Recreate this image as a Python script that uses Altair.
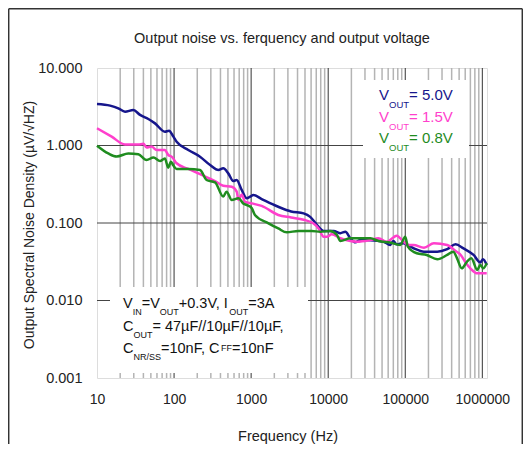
import altair as alt
import pandas as pd

FONT = "Liberation Sans"

# ---------------- data ----------------
blue_f = [10, 14.8, 18.9, 23.1, 29.6, 36.2, 46.4, 56.6, 76, 86, 98, 108, 153, 217, 294, 376, 435, 505, 586, 650,
          754, 880, 973, 1070, 1370, 2250, 3300, 4800, 5840, 7170, 8750, 11800, 14400, 16700, 19400, 22500, 26200,
          35300, 52500, 63500, 70000, 77500, 95000, 128000, 175000, 260000, 350000, 450000, 570000, 770000,
          940000, 1020000, 1140000]
blue_v = [3.43, 3.27, 3.02, 2.73, 2.87, 2.48, 2.2, 1.93, 1.51, 1.55, 1.30, 1.12, 0.875, 0.718, 0.56, 0.483, 0.507,
          0.437, 0.348, 0.359, 0.267, 0.208, 0.219, 0.23, 0.204, 0.162, 0.141, 0.133, 0.12, 0.094, 0.079, 0.079,
          0.074, 0.077, 0.0635, 0.0564, 0.0604, 0.060, 0.0574, 0.052, 0.0586, 0.053, 0.0547, 0.0472, 0.0427,
          0.0427, 0.046, 0.053, 0.047, 0.0387, 0.031, 0.034, 0.0287]

pink_f = [10, 15.5, 23.1, 34.4, 40, 44, 51, 59.5, 76, 84, 93, 108, 153, 228, 340, 435, 560, 650, 686, 754,
          834, 1020, 1370, 2250, 3300, 4800, 6400, 7500, 8750, 9700, 11100, 14400, 23600, 35300, 44800, 57700,
          77500, 95000, 110000, 128000, 175000, 235000, 350000, 450000, 525000, 615000, 700000, 860000, 1140000]
pink_v = [1.67, 1.30, 1.03, 1.03, 1.05, 0.94, 0.97, 0.875, 0.875, 0.754, 0.718, 0.59, 0.498, 0.417, 0.348, 0.303,
          0.294, 0.254, 0.198, 0.234, 0.188, 0.179, 0.166, 0.127, 0.118, 0.11, 0.099, 0.085, 0.0665, 0.0665,
          0.0714, 0.0635, 0.0574, 0.0604, 0.0635, 0.0574, 0.0687, 0.0574, 0.052, 0.052, 0.048, 0.0547, 0.052,
          0.0436, 0.0387, 0.0302, 0.026, 0.0224, 0.0224]

green_f = [10, 14, 18, 25.5, 34.4, 44, 54, 65.8, 76, 84, 91, 98, 108, 153, 217, 264, 340, 435, 480, 560,
           686, 790, 920, 1020, 1120, 1680, 2250, 2900, 4100, 6100, 7900, 10600, 13000, 14400, 19400, 23600,
           35300, 44800, 63500, 86000, 100000, 108000, 141000, 190000, 260000, 350000, 420000, 470000, 540000,
           630000, 720000, 860000, 940000, 1030000, 1140000]
green_v = [0.995, 0.79, 0.72, 0.79, 0.77, 0.65, 0.70, 0.63, 0.68, 0.518, 0.617, 0.55, 0.498, 0.498, 0.483, 0.359,
           0.335, 0.219, 0.254, 0.198, 0.208, 0.179, 0.167, 0.155, 0.127, 0.099, 0.085, 0.0758, 0.079, 0.079,
           0.077, 0.079, 0.07, 0.0586, 0.0635, 0.0635, 0.0635, 0.0586, 0.056, 0.052, 0.0665, 0.0496, 0.0407,
           0.0387, 0.034, 0.0387, 0.0427, 0.035, 0.026, 0.0316, 0.035, 0.0248, 0.0287, 0.026, 0.0302]

series_names = ["VOUT=5.0V", "VOUT=1.5V", "VOUT=0.8V"]
series_colors = ["#16168c", "#ff3fcc", "#1f8c1f"]

x_ticks = [10, 100, 1000, 10000, 100000, 1000000]
y_ticks = [0.001, 0.01, 0.1, 1, 10]
x_minor = [k * d for d in [10, 100, 1000, 10000, 100000] for k in range(2, 10)]
x_major = [100, 1000, 10000, 100000, 1000000]
y_major = [0.01, 0.1, 1]

title_text = "Output noise vs. ferquency and output voltage"
x_title = "Frequency (Hz)"
y_title = "Output Spectral Noise Density (µV/√HZ)"

W, H = 390, 310
xs = alt.Scale(type="log", domain=[10, 1.15e6], nice=False)
ys = alt.Scale(type="log", domain=[0.001, 10], nice=False)

rows = []
for name, fs, vs in zip(series_names, [blue_f, pink_f, green_f], [blue_v, pink_v, green_v]):
    for f, v in zip(fs, vs):
        rows.append({"series": name, "f": f, "v": v})
curves_df = pd.DataFrame(rows)

# ---------------- text layout helpers (Arial metrics) ----------------
AW = {'V': 667, 'O': 778, 'U': 722, 'T': 611, 'I': 278, 'N': 722, 'C': 722, 'R': 722, 'S': 667, 'F': 611,
      'A': 667, '=': 584, ' ': 278, '.': 278, ',': 278, '+': 584, '/': 278, 'µ': 576, 'n': 556}
for d in "0123456789":
    AW[d] = 556


def tw(s, size):
    return sum(AW.get(c, 556) for c in s) * size / 1000.0


def layout(segs, x0, y0, main, sub, sub_dy, color):
    out = []
    x = x0
    for txt, kind in segs:
        if kind == "n":
            size, dy = main, 0
        elif kind == "s":
            size, dy = sub, sub_dy
        else:  # raised small subscript
            size, dy = sub, -2
        out.append({"px": x, "py": y0 + dy, "t": txt, "s": size, "c": color})
        x += tw(txt, size)
    return out


text_rows = []
# legend box text (chart coords: page - (97, 68))
leg_vals = ["5.0V", "1.5V", "0.8V"]
for i, (val, col) in enumerate(zip(leg_vals, series_colors)):
    text_rows += layout([("V", "n"), ("OUT", "s"), ("= " + val, "n")], 282, 32 + i * 21.5, 15, 9.5, 8, col)

# annotation text
ann_color = "#111111"
text_rows += layout([("V", "n"), ("IN", "s"), ("=V", "n"), ("OUT", "s"), ("+0.3V, I", "n"), ("OUT", "s"),
                     ("=3A", "n")], 26, 240, 14.5, 9, 7, ann_color)
text_rows += layout([("C", "n"), ("OUT", "s"), ("= 47µF//10µF//10µF,", "n")], 26, 263, 14.5, 9, 7, ann_color)
text_rows += layout([("C", "n"), ("NR/SS", "s"), ("=10nF, C", "n"), ("FF", "r"), ("=10nF", "n")],
                    26, 285, 14.5, 9, 7, ann_color)
text_df = pd.DataFrame(text_rows)

one = alt.Data(values=[{}])

# ---------------- layers ----------------
minor_grid = alt.Chart(pd.DataFrame({"f": x_minor})).mark_rule(color="#b4b4b4", strokeWidth=1.5).encode(
    x=alt.X("f:Q", scale=xs, axis=None))
major_grid = alt.Chart(pd.DataFrame({"f": x_major})).mark_rule(color="#333333", strokeWidth=1).encode(
    x=alt.X("f:Q", scale=xs, axis=None))
hgrid = alt.Chart(pd.DataFrame({"v": y_major})).mark_rule(color="#444444", strokeWidth=1).encode(
    y=alt.Y("v:Q", scale=ys, axis=None))

legend_box = alt.Chart(one).mark_rect(fill="white").encode(
    x=alt.value(266), x2=alt.value(372), y=alt.value(12), y2=alt.value(90))
ann_box = alt.Chart(one).mark_rect(fill="white").encode(
    x=alt.value(13), x2=alt.value(211), y=alt.value(219), y2=alt.value(305))

curves = alt.Chart(curves_df).mark_line(strokeWidth=2.5, interpolate="monotone").encode(
    x=alt.X("f:Q", scale=xs,
            axis=alt.Axis(values=x_ticks, format="d", title=None, grid=False, domain=False, ticks=False,
                          labelFontSize=14, labelColor="#222", labelFont=FONT, labelPadding=14,
                          labelFlush=False, labelOverlap=False)),
    y=alt.Y("v:Q", scale=ys,
            axis=alt.Axis(values=y_ticks, format=".3f", title=None, grid=False, domain=False, ticks=False,
                          labelFontSize=14.5, labelColor="#222", labelFont=FONT, labelPadding=15,
                          labelFlush=False, labelOverlap=False)),
    color=alt.Color("series:N", scale=alt.Scale(domain=series_names, range=series_colors), legend=None),
    order=alt.Order("f:Q"),
)

texts = alt.Chart(text_df).mark_text(font=FONT, align="left", baseline="alphabetic").encode(
    x=alt.X("px:Q", scale=None, axis=None),
    y=alt.Y("py:Q", scale=None, axis=None),
    text="t:N",
    size=alt.Size("s:Q", scale=None, legend=None),
    color=alt.Color("c:N", scale=None, legend=None),
)

title_mark = alt.Chart(one).mark_text(font=FONT, fontSize=14.5, color="#222", align="center",
                                      baseline="alphabetic").encode(
    x=alt.value(185), y=alt.value(-25), text=alt.value(title_text))
xtitle_mark = alt.Chart(one).mark_text(font=FONT, fontSize=14.5, color="#222", align="center",
                                       baseline="middle").encode(
    x=alt.value(191), y=alt.value(369), text=alt.value(x_title))
ytitle_mark = alt.Chart(one).mark_text(font=FONT, fontSize=14, color="#222", align="center",
                                       baseline="middle", angle=270).encode(
    x=alt.value(-67), y=alt.value(157), text=alt.value(y_title))

frame_left = alt.Chart(one).mark_rule(color="#333", strokeWidth=1.5).encode(
    x=alt.value(-88.3), y=alt.value(-59.3), y2=alt.value(376))
frame_top = alt.Chart(one).mark_rule(color="#333", strokeWidth=1.5).encode(
    x=alt.value(-88.3), x2=alt.value(425.3), y=alt.value(-59.3))
frame_right = alt.Chart(one).mark_rule(color="#333", strokeWidth=1.5).encode(
    x=alt.value(425.3), y=alt.value(-59.3), y2=alt.value(376))

chart = alt.layer(
    minor_grid, major_grid, hgrid, legend_box, ann_box, curves, texts,
    title_mark, xtitle_mark, ytitle_mark, frame_left, frame_top, frame_right,
).resolve_scale(x="independent", y="independent").properties(
    width=W, height=H,
    padding={"left": 89, "top": 60, "right": 36, "bottom": 66},
    autosize=alt.AutoSizeParams(type="none"),
).configure_view(stroke="#a0a0a0", strokeWidth=2).configure(font=FONT)

chart.save("out.html", embed_options={"renderer": "svg", "actions": False})
